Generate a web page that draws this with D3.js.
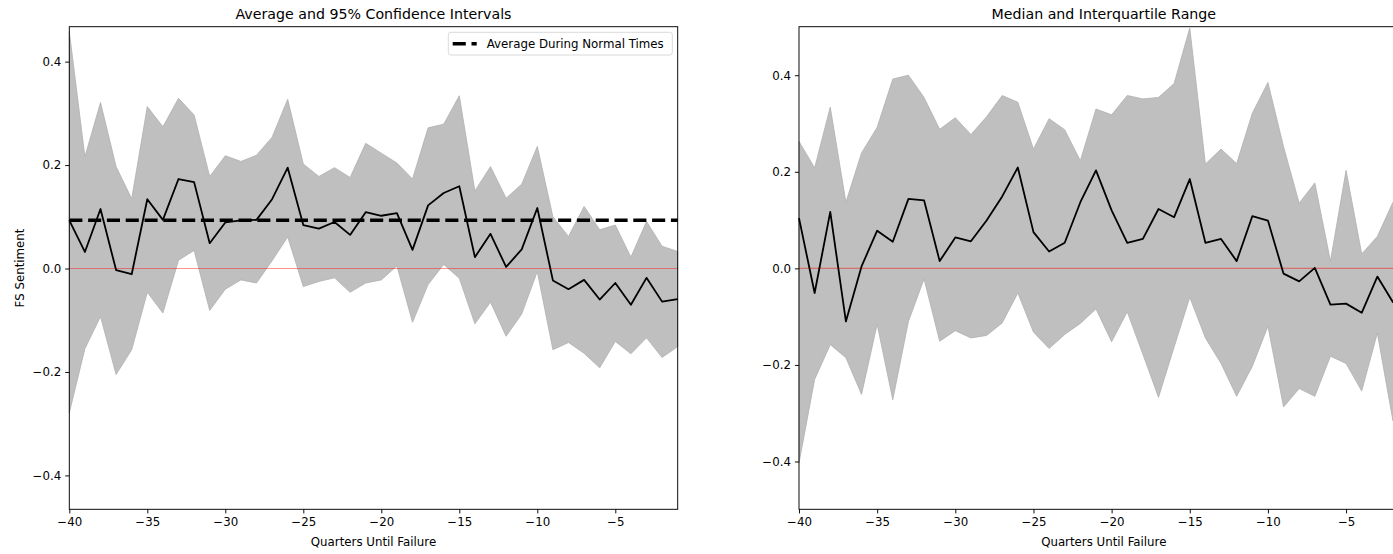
<!DOCTYPE html>
<html>
<head>
<meta charset="utf-8">
<script src="https://cdn.jsdelivr.net/npm/d3@7"></script>
<style>
  body { margin: 0; background: #fff; }
  svg { display: block; font-family: "DejaVu Sans", sans-serif; }
  .axis path, .axis line { stroke: #000; stroke-width: 0.95; }
  .title { font-size: 14.2px; }
  .label { font-size: 11.8px; }
</style>
</head>
<body>
<div id="chart"></div>
<script>
// quarters until failure, -40 .. -1
const quarters = [-40,-39,-38,-37,-36,-35,-34,-33,-32,-31,-30,-29,-28,-27,-26,-25,-24,-23,-22,-21,
                  -20,-19,-18,-17,-16,-15,-14,-13,-12,-11,-10,-9,-8,-7,-6,-5,-4,-3,-2,-1];

// left panel: mean and 95% CI
const meanVals = [0.093,0.032,0.115,-0.003,-0.011,0.134,0.094,0.173,0.167,0.049,0.089,0.093,0.094,0.134,0.195,0.084,0.077,0.090,0.065,0.109,
                  0.102,0.107,0.036,0.122,0.146,0.159,0.022,0.067,0.003,0.037,0.117,-0.023,-0.040,-0.022,-0.060,-0.028,-0.070,-0.018,-0.064,-0.059];
const ciUpper = [0.458,0.216,0.321,0.197,0.135,0.313,0.274,0.329,0.297,0.178,0.218,0.207,0.219,0.254,0.327,0.202,0.178,0.195,0.176,0.242,
                 0.223,0.204,0.173,0.272,0.279,0.334,0.150,0.197,0.136,0.163,0.236,0.100,0.062,0.120,0.075,0.084,0.022,0.091,0.043,0.033];
const ciLower = [-0.279,-0.155,-0.093,-0.205,-0.157,-0.046,-0.086,0.016,0.035,-0.081,-0.040,-0.022,-0.028,0.015,0.061,-0.035,-0.025,-0.018,-0.046,-0.028,
                 -0.022,0.005,-0.104,-0.031,0.008,-0.019,-0.107,-0.065,-0.131,-0.088,-0.006,-0.157,-0.143,-0.164,-0.192,-0.141,-0.165,-0.134,-0.172,-0.151];
const normalAvg = 0.0935;

// right panel: median and IQR
const medianVals = [0.104,-0.051,0.117,-0.110,0.004,0.078,0.055,0.144,0.141,0.015,0.064,0.056,0.099,0.149,0.209,0.075,0.035,0.053,0.137,0.203,
                    0.120,0.053,0.061,0.123,0.106,0.185,0.053,0.061,0.015,0.108,0.099,-0.011,-0.027,0.001,-0.075,-0.073,-0.092,-0.017,-0.070,-0.080];
const q75 = [0.263,0.208,0.334,0.137,0.239,0.292,0.392,0.400,0.354,0.288,0.312,0.277,0.314,0.358,0.344,0.247,0.310,0.287,0.223,0.330,
             0.318,0.358,0.351,0.354,0.383,0.498,0.216,0.247,0.217,0.321,0.385,0.252,0.135,0.177,0.015,0.203,0.030,0.066,0.137,0.180];
const q25 = [-0.403,-0.230,-0.158,-0.185,-0.261,-0.116,-0.272,-0.110,-0.022,-0.151,-0.129,-0.144,-0.139,-0.113,-0.051,-0.132,-0.166,-0.137,-0.114,-0.084,
             -0.152,-0.090,-0.178,-0.267,-0.163,-0.060,-0.144,-0.197,-0.265,-0.203,-0.120,-0.287,-0.249,-0.265,-0.182,-0.197,-0.254,-0.134,-0.316,-0.200];

const xTicks = [-40,-35,-30,-25,-20,-15,-10,-5];
const yTicks = [-0.4, -0.2, 0, 0.2, 0.4];

const W = 1393, H = 554;
const FONT = "DejaVu Sans, sans-serif";
const svg = d3.select("#chart").append("svg").attr("width", W).attr("height", H);

const minus = s => s.replace("-", "\u2212");

function drawPanel(cfg) {
  const { left, top, width, height, yDomain, center, upper, lower } = cfg;

  const x = d3.scaleLinear().domain([-40, -1]).range([0, width]);
  const y = d3.scaleLinear().domain(yDomain).range([height, 0]);

  const g = svg.append("g").attr("transform", `translate(${left},${top})`);

  const rows = quarters.map((q, i) => ({ q, c: center[i], hi: upper[i], lo: lower[i] }));

  // band
  const area = d3.area().x(d => x(d.q)).y0(d => y(d.lo)).y1(d => y(d.hi));
  g.append("path")
    .datum(rows)
    .attr("d", area)
    .attr("fill", "#bfbfbf")
    .attr("stroke", "#b0b0b0")
    .attr("stroke-width", 0.8);

  // zero line
  g.append("line")
    .attr("x1", 0).attr("x2", width)
    .attr("y1", y(0)).attr("y2", y(0))
    .attr("stroke", "red").attr("stroke-opacity", 0.42).attr("stroke-width", 1.2);

  if (cfg.refLine !== undefined) {
    g.append("line")
      .attr("x1", x(-40)).attr("x2", x(-1))
      .attr("y1", y(cfg.refLine)).attr("y2", y(cfg.refLine))
      .attr("stroke", "#000").attr("stroke-width", 3.5)
      .attr("stroke-dasharray", "13.1,5.7");
  }

  const line = d3.line().x(d => x(d.q)).y(d => y(d.c));
  g.append("path")
    .datum(rows)
    .attr("d", line)
    .attr("fill", "none")
    .attr("stroke", "#000")
    .attr("stroke-width", 1.8)
    .attr("stroke-linejoin", "round");

  // frame
  g.append("rect")
    .attr("width", width).attr("height", height)
    .attr("fill", "none").attr("stroke", "#000").attr("stroke-width", 0.95);

  const fmtY = d3.format(".1f");
  g.append("g")
    .attr("class", "axis")
    .attr("transform", `translate(0,${height})`)
    .call(d3.axisBottom(x).tickValues(xTicks).tickSize(4.1).tickPadding(4.3).tickFormat(d => minus(String(d))))
    .call(a => a.select(".domain").remove())
    .attr("font-size", 11.8).attr("font-family", FONT);

  g.append("g")
    .attr("class", "axis")
    .call(d3.axisLeft(y).tickValues(yTicks).tickSize(4.1).tickPadding(4).tickFormat(d => minus(fmtY(d))))
    .call(a => a.select(".domain").remove())
    .attr("font-size", 11.8).attr("font-family", FONT);

  g.append("text")
    .attr("class", "title")
    .attr("x", width / 2).attr("y", -8.2)
    .attr("text-anchor", "middle")
    .text(cfg.title);

  g.append("text")
    .attr("class", "label")
    .attr("x", width / 2).attr("y", height + 36.5)
    .attr("text-anchor", "middle")
    .text("Quarters Until Failure");

  if (cfg.yLabel) {
    g.append("text")
      .attr("class", "label")
      .attr("transform", "rotate(-90)")
      .attr("x", -height / 2).attr("y", -45.5)
      .attr("text-anchor", "middle")
      .text(cfg.yLabel);
  }

  if (cfg.legend) {
    const lg = g.append("g").attr("transform", `translate(${width - 229.4},${5.6})`);
    lg.append("rect")
      .attr("width", 224).attr("height", 22.7).attr("rx", 2.5)
      .attr("fill", "#fff").attr("fill-opacity", 0.8)
      .attr("stroke", "#d6d6d6").attr("stroke-width", 0.9);
    lg.append("line")
      .attr("x1", 4.4).attr("x2", 28.4).attr("y1", 11.4).attr("y2", 11.4)
      .attr("stroke", "#000").attr("stroke-width", 3.5)
      .attr("stroke-dasharray", "13.1,5.7");
    lg.append("text")
      .attr("class", "label")
      .attr("x", 38.4).attr("y", 11.4).attr("dy", "0.36em")
      .text(cfg.legend);
  }
}

drawPanel({
  left: 69.3, top: 26.7, width: 608.4, height: 482.6,
  yDomain: [-0.4655, 0.4675],
  center: meanVals, upper: ciUpper, lower: ciLower,
  refLine: normalAvg,
  title: "Average and 95% Confidence Intervals",
  yLabel: "FS Sentiment",
  legend: "Average During Normal Times"
});

drawPanel({
  left: 799, top: 26.7, width: 609.6, height: 482.6,
  yDomain: [-0.499, 0.5005],
  center: medianVals, upper: q75, lower: q25,
  title: "Median and Interquartile Range"
});
</script>
</body>
</html>
